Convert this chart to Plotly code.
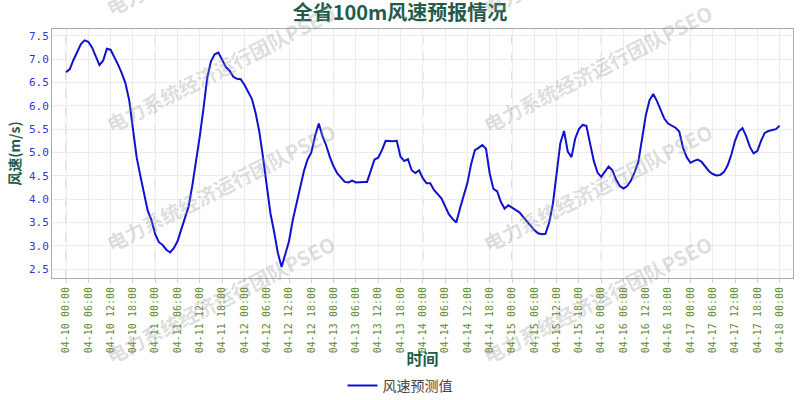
import pandas as pd
import plotly.graph_objects as go

# hourly forecast, 04-10 00:00 .. 04-18 00:00
start_time = '2024-04-10 00:00'
wind_speed = [
    6.72, 6.78, 6.98, 7.15, 7.32, 7.40, 7.37, 7.25, 7.07, 6.87, 6.97, 7.22,
    7.20, 7.05, 6.88, 6.70, 6.48, 6.12, 5.50, 4.90, 4.50, 4.10, 3.75, 3.55,
    3.25, 3.08, 3.02, 2.92, 2.86, 2.95, 3.10, 3.35, 3.62, 3.85, 4.30, 4.78,
    5.35, 5.95, 6.60, 6.95, 7.10, 7.14, 6.98, 6.83, 6.75, 6.62, 6.58, 6.57,
    6.45, 6.30, 6.15, 5.85, 5.45, 4.90, 4.30, 3.70, 3.30, 2.85, 2.55, 2.85,
    3.10, 3.55, 3.90, 4.25, 4.60, 4.85, 5.00, 5.35, 5.62, 5.35, 5.15, 4.90,
    4.70, 4.55, 4.45, 4.37, 4.36, 4.40, 4.36, 4.37, 4.37, 4.37, 4.60, 4.85,
    4.89, 5.05, 5.25, 5.24, 5.24, 5.25, 4.91, 4.82, 4.86, 4.62, 4.56, 4.62,
    4.45, 4.34, 4.34, 4.20, 4.10, 4.02, 3.85, 3.68, 3.58, 3.50, 3.80, 4.05,
    4.35, 4.75, 5.05, 5.10, 5.16, 5.08, 4.55, 4.22, 4.17, 3.94, 3.80, 3.87,
    3.82, 3.77, 3.72, 3.62, 3.52, 3.43, 3.34, 3.27, 3.25, 3.26, 3.50, 3.90,
    4.50, 5.20, 5.46, 5.02, 4.90, 5.30, 5.50, 5.59, 5.57, 5.20, 4.82, 4.57,
    4.48, 4.59, 4.70, 4.62, 4.42, 4.28, 4.23, 4.28, 4.40, 4.58, 4.80, 5.30,
    5.80, 6.12, 6.25, 6.10, 5.90, 5.72, 5.62, 5.57, 5.53, 5.45, 5.10, 4.90,
    4.78, 4.82, 4.85, 4.80, 4.70, 4.60, 4.54, 4.51, 4.52, 4.58, 4.72, 4.95,
    5.25, 5.45, 5.52, 5.35, 5.12, 4.98, 5.03, 5.25, 5.42, 5.46, 5.48, 5.50,
    5.57,
]
times = pd.date_range(start_time, periods=len(wind_speed), freq='h')
day_marks = pd.date_range(start_time, times[-1], freq='D')

title_color = '#1f5c4c'
wm_text = '电力系统经济运行团队PSEO'
wm_x = [0.227, 0.736]
wm_y = [1.31, 0.843, 0.365, -0.088]

fig = go.Figure()

fig.add_trace(go.Scatter(
    x=times, y=wind_speed,
    mode='lines',
    line=dict(color='#1010d0', width=2),
    name='风速预测值',
))

# dashed lines at each day boundary
for d in day_marks:
    fig.add_vline(x=d, line=dict(color='#bdbdbd', width=1, dash='dash'), layer='below')

# watermark
for wx in wm_x:
    for wy in wm_y:
        fig.add_annotation(
            text='<b>' + wm_text + '</b>', xref='paper', yref='paper', x=wx, y=wy,
            xanchor='center', yanchor='middle',
            showarrow=False, textangle=-27,
            font=dict(size=20, color='rgba(150,150,150,0.33)', family='Noto Sans CJK SC'),
        )

fig.update_layout(
    width=800, height=400,
    template='plotly_white',
    paper_bgcolor='white', plot_bgcolor='white',
    margin=dict(l=52, r=7, t=29, b=122),
    title=dict(
        text='<b>全省100m风速预报情况</b>', x=0.5, xanchor='center', y=0.968, yanchor='middle',
        font=dict(size=20, color=title_color, family='Noto Sans CJK SC'),
    ),
    showlegend=True,
    legend=dict(
        orientation='h', xref='container', yref='container',
        x=0.5, xanchor='center', y=0.035, yanchor='middle',
        font=dict(size=14, color='#444', family='Noto Sans CJK SC'),
    ),
    font=dict(family='Noto Sans CJK SC'),
)

fig.update_xaxes(
    type='date', automargin=False,
    range=[times[0] - pd.Timedelta(hours=3.77), times[-1] + pd.Timedelta(hours=3.6)],
    dtick=6 * 3600 * 1000, tick0=times[0],
    tickformat='%m-%d %H:%M', tickangle=-90,
    tickfont=dict(size=10, color='#5f8a30', family='DejaVu Sans Mono'),
    showgrid=True, gridcolor='#ececec', gridwidth=1,
    ticks='outside', ticklen=4, tickcolor='#cccccc',
    showline=True, linecolor='#aaaaaa', linewidth=1, mirror=True,
    zeroline=False,
    title=dict(text='<b>时间</b>', font=dict(size=16, color=title_color), standoff=6),
)

fig.update_yaxes(
    automargin=False,
    range=[2.314, 7.643], dtick=0.5, tick0=2.5, tickformat='.1f',
    tickfont=dict(size=11, color='#3535d0', family='DejaVu Sans Mono'),
    showgrid=True, gridcolor='#ececec', gridwidth=1,
    showline=True, linecolor='#aaaaaa', linewidth=1, mirror=True,
    zeroline=False,
    title=dict(text='<b>风速(m/s)</b>', font=dict(size=14, color=title_color), standoff=5),
)

# drop the default body margin so the 800x400 figure fills the window
fig.write_html('out.html', config={'displayModeBar': False},
               post_script="document.body.style.margin='0';")
